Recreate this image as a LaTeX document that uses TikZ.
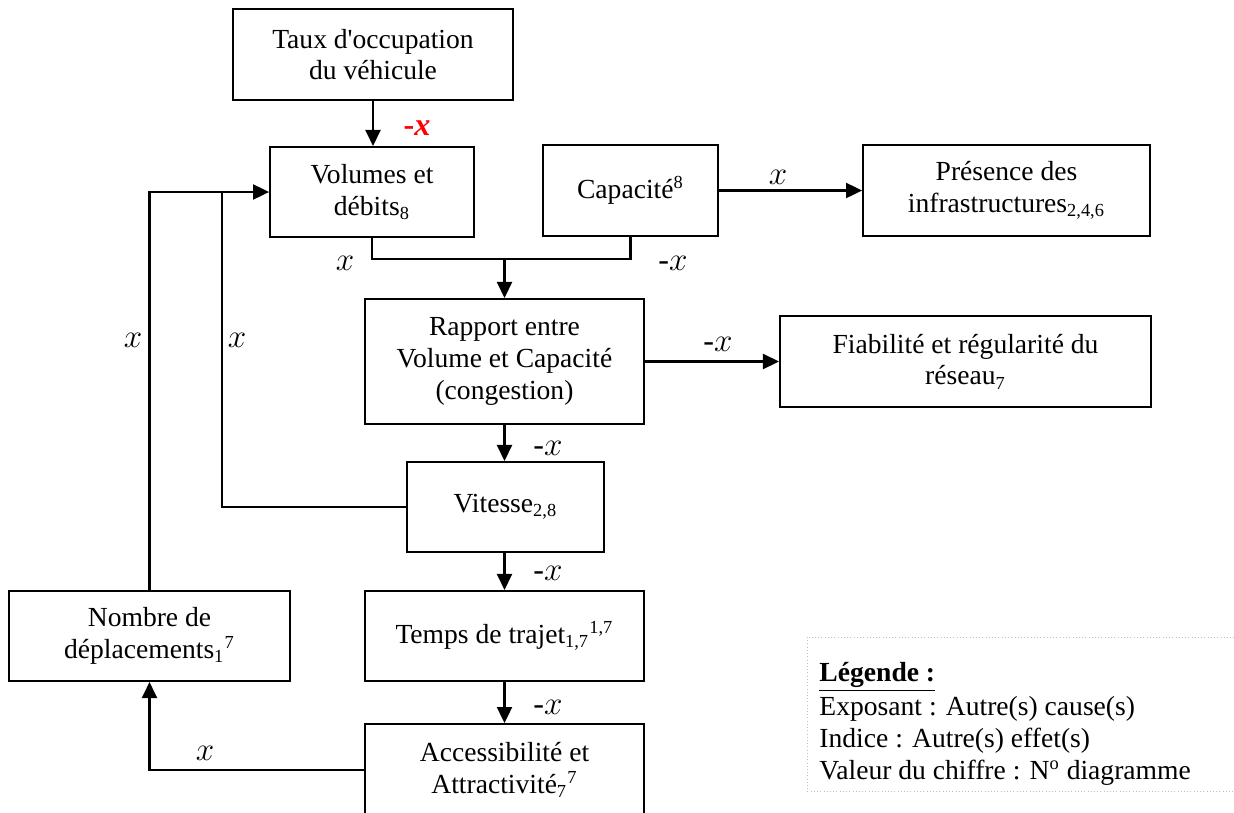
\documentclass[tikz,border=0pt]{standalone}
\usepackage{fontspec}
\setmainfont{Liberation Serif}
\usetikzlibrary{arrows.meta}
\begin{document}
\begin{tikzpicture}[x=0.435pt,y=-0.435pt,
    font=\fontsize{12pt}{13.8pt}\selectfont,
    bloc/.style 2 args={draw,line width=0.8pt,align=center,inner sep=0pt,
      minimum width=#1,minimum height=#2},
    lien/.style={line width=1pt},
    fleche/.style={lien,-{Triangle[length=7pt,width=6.5pt]}},
    coef/.style={font=\fontsize{14pt}{14pt}\selectfont}]
  \useasboundingbox (0,0) rectangle (1234,812);
  \clip (0,0) rectangle (1234,812);

  \node[bloc={121.8pt}{39.6pt}] (taux) at (373,54.5) {Taux d\textquotesingle occupation\\du véhicule};
  \node[bloc={88.7pt}{39.2pt}] (vol) at (372,192) {Volumes et\\débits\textsubscript{8}};
  \node[bloc={76.1pt}{39.6pt}] (cap) at (630.5,190.5) {Capacité\textsuperscript{8}};
  \node[bloc={124.8pt}{39.6pt}] (pres) at (1006.5,190.5) {Présence des\\infrastructures\textsubscript{2,4,6}};
  \node[bloc={121.4pt}{54.4pt}] (rap) at (504.5,361.5) {Rapport entre\\Volume et Capacité\\(congestion)};
  \node[bloc={161.4pt}{39.6pt}] (fia) at (965.5,361.5) {Fiabilité et régularité du\\réseau\textsubscript{7}};
  \node[bloc={85.7pt}{39.2pt}] (vit) at (505.5,507) {Vitesse\textsubscript{2,8}};
  \node[bloc={121.4pt}{39.2pt}] (tps) at (504.5,636) {Temps de trajet\textsubscript{1,7}\textsuperscript{1,7}};
  \node[bloc={121.4pt}{40pt}] (acc) at (504.5,770) {Accessibilité et\\Attractivité\textsubscript{7}\textsuperscript{7}};
  \node[bloc={122.2pt}{39.2pt}] (nbr) at (149.5,636) {Nombre de\\déplacements\textsubscript{1}\textsuperscript{7}};

  \coordinate (jonc) at (504.5,259);
  \coordinate (coude) at (222,507);
  \draw[fleche] (taux.south) -- (taux.south |- vol.north);
  \draw[lien] (vol.south) |- (jonc) -| (cap.south);
  \draw[fleche] (jonc) -- (rap.north);
  \draw[fleche] (cap) -- (pres);
  \draw[fleche] (rap) -- (fia);
  \draw[fleche] (rap.south) -- (rap.south |- vit.north);
  \draw[fleche] (tps.north |- vit.south) -- (tps.north);
  \draw[fleche] (tps) -- (acc);
  \draw[fleche] (nbr.north) |- (vol.west);
  \draw[lien] (vit.west) -| (coude |- vol.west);
  \draw[fleche] (acc.west) -| (nbr.south);

  \node[coef,text=red] at (417,128) {\textbf{-\textit{x}}};
  \node[coef] at (345,263) {$x$};
  \node[coef] at (673,263) {-$x$};
  \node[coef] at (778,177) {$x$};
  \node[coef] at (718,344) {-$x$};
  \node[coef] at (133,340) {$x$};
  \node[coef] at (237,340) {$x$};
  \node[coef] at (548,448) {-$x$};
  \node[coef] at (548,573) {-$x$};
  \node[coef] at (548,707) {-$x$};
  \node[coef] at (205,753) {$x$};

  \draw[gray!50,densely dotted,line width=0.4pt] (807,637) rectangle (1240,791);
  \node[anchor=north west,align=left,inner sep=0pt] (leg) at (819,662)
    {\underline{\textbf{Légende :}}\\[1pt]Exposant : Autre(s) cause(s)\\Indice : Autre(s) effet(s)\\Valeur du chiffre : N\textsuperscript{o} diagramme};
\end{tikzpicture}
\end{document}
